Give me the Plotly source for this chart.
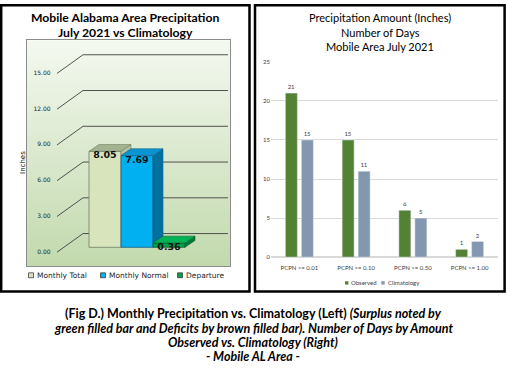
import plotly.graph_objects as go

# ---------------- data ----------------
left_categories = ["Monthly Total", "Monthly Normal", "Departure"]
left_values = [8.05, 7.69, 0.36]
left_value_labels = ["8.05", "7.69", "0.36"]
left_ticks = [0, 3, 6, 9, 12, 15]
left_tick_labels = ["0.00", "3.00", "6.00", "9.00", "12.00", "15.00"]

right_categories = ["PCPN >= 0.01", "PCPN >= 0.10", "PCPN >= 0.50", "PCPN >= 1.00"]
observed_days = [21, 15, 6, 1]
climatology_days = [15, 11, 5, 2]
right_ticks = [0, 5, 10, 15, 20, 25]

# ---------------- styling / geometry ----------------
W, H = 507, 370
def px(x):
    return x / W
def py(y):
    return 1 - y / H

front_colors = ["#d8e4bc", "#00b0f0", "#00a04a"]
top_colors = ["#a3b38f", "#0a94d2", "#00b455"]
side_colors = ["#b3c29f", "#00709f", "#007a38"]
edge_colors = ["#6f7d62", "#1a5f86", "#0c5e2e"]

PX_IN = 12.15          # pixels per inch on the left chart
BAR_PX = 32            # pixels per category on the left chart
X0_PX, Y0_PX = 105, 248
L_AREA = (27, 230, 37, 267)
xr_left = [(L_AREA[0] - X0_PX) / BAR_PX, (L_AREA[1] - X0_PX) / BAR_PX]
yr_left = [(Y0_PX - L_AREA[3]) / PX_IN, (Y0_PX - L_AREA[2]) / PX_IN]
DX, DY = 10 / BAR_PX, 7 / PX_IN
WALL_FX, WALL_FY = (57 - X0_PX) / BAR_PX, -5 / PX_IN
WALL_BX, WALL_BY = (83 - X0_PX) / BAR_PX, 14 / PX_IN
WALL_END = (228 - X0_PX) / BAR_PX

LFONT = "DejaVu Sans"
TFONT = "Lato"

fig = go.Figure()

# background gradient of left plot area
fig.add_trace(go.Scatter(
    x=[xr_left[0], xr_left[1], xr_left[1], xr_left[0], xr_left[0]],
    y=[yr_left[0], yr_left[0], yr_left[1], yr_left[1], yr_left[0]],
    mode="none", fill="toself",
    fillgradient=dict(type="vertical", colorscale=[[0, "#c2d9ad"], [1, "#f4f9f0"]]),
    hoverinfo="skip", xaxis="x", yaxis="y"))

# 3D gridlines (wall)
gx, gy = [], []
for t in left_ticks:
    gx += [WALL_FX, WALL_BX, WALL_END, None]
    gy += [t + WALL_FY, t + WALL_BY, t + WALL_BY, None]
fig.add_trace(go.Scatter(x=gx, y=gy, mode="lines",
                         line=dict(color="#404040", width=0.9),
                         hoverinfo="skip", xaxis="x", yaxis="y"))

# tick labels
fig.add_trace(go.Scatter(
    x=[WALL_FX - 0.2] * len(left_ticks), y=[t + WALL_FY for t in left_ticks],
    mode="text", text=left_tick_labels, textposition="middle left",
    textfont=dict(family=LFONT, size=6, color="#262626"),
    hoverinfo="skip", xaxis="x", yaxis="y", cliponaxis=False))

# bars (front faces) on overlay axes
xs = list(range(len(left_values)))
fig.add_trace(go.Bar(
    x=xs, y=left_values, width=1,
    marker=dict(color=front_colors, line=dict(color=edge_colors, width=0.8)),
    hoverinfo="skip", xaxis="x3", yaxis="y3"))

for i, v in enumerate(left_values):
    lo = min(left_values[i + 1], v) if i + 1 < len(left_values) else 0.0
    fig.add_trace(go.Scatter(
        x=[i + 0.5, i + 0.5, i + 0.5 + DX, i + 0.5 + DX, i + 0.5],
        y=[lo, v, v + DY, lo + DY, lo],
        mode="lines", fill="toself", fillcolor=side_colors[i],
        line=dict(color=edge_colors[i], width=0.6),
        hoverinfo="skip", xaxis="x3", yaxis="y3"))
    fig.add_trace(go.Scatter(
        x=[i - 0.5, i - 0.5 + DX, i + 0.5 + DX, i + 0.5, i - 0.5],
        y=[v, v + DY, v + DY, v, v],
        mode="lines", fill="toself", fillcolor=top_colors[i],
        line=dict(color=edge_colors[i], width=0.6),
        hoverinfo="skip", xaxis="x3", yaxis="y3"))

fig.add_trace(go.Scatter(
    x=xs, y=left_values, mode="text", text=left_value_labels,
    textposition="bottom center",
    textfont=dict(family=LFONT, size=9.5, color="#111111", weight="bold"),
    hoverinfo="skip", xaxis="x3", yaxis="y3", cliponaxis=False))

# right chart
fig.add_trace(go.Bar(
    x=right_categories, y=observed_days, name="Observed",
    marker_color="#548235", text=[str(v) for v in observed_days],
    textposition="outside", cliponaxis=False,
    textfont=dict(family=TFONT, size=6, color="#404040"),
    xaxis="x2", yaxis="y2"))
fig.add_trace(go.Bar(
    x=right_categories, y=climatology_days, name="Climatology",
    marker_color="#8497b0", text=[str(v) for v in climatology_days],
    textposition="outside", cliponaxis=False,
    textfont=dict(family=TFONT, size=6, color="#404040"),
    xaxis="x2", yaxis="y2"))

hidden = dict(showgrid=False, zeroline=False, showticklabels=False, ticks="")
fig.update_layout(
    width=W, height=H, margin=dict(l=0, r=0, t=0, b=0), autosize=False,
    paper_bgcolor="white", plot_bgcolor="rgba(0,0,0,0)",
    showlegend=False, barmode="group", bargap=0.436, bargroupgap=0.25,
    xaxis=dict(domain=[px(L_AREA[0]), px(L_AREA[1])], range=xr_left,
               showline=True, mirror=True, linecolor="#8c8c8c", linewidth=1, **hidden),
    yaxis=dict(domain=[py(L_AREA[3]), py(L_AREA[2])], range=yr_left,
               showline=True, mirror=True, linecolor="#8c8c8c", linewidth=1, **hidden),
    xaxis3=dict(overlaying="x", range=xr_left, visible=False, **hidden),
    yaxis3=dict(overlaying="y", range=yr_left, visible=False, **hidden),
    xaxis2=dict(domain=[px(271), px(498)], anchor="y2", showline=False, ticks="",
                tickfont=dict(family=TFONT, size=6, color="#404040"),
                ticklabelstandoff=6),
    yaxis2=dict(domain=[py(258), py(59)], anchor="x2", range=[0, 25],
                tickvals=right_ticks, gridcolor="#d9d9d9", gridwidth=1,
                zeroline=True, zerolinecolor="#d9d9d9", showline=False, ticks="",
                tickfont=dict(family=TFONT, size=6, color="#404040")),
)

ann = []
def text(x, y, s, size, family=TFONT, color="#000000", **kw):
    ann.append(dict(x=px(x), y=py(y), xref="paper", yref="paper", text=s,
                    showarrow=False, xanchor=kw.pop("xanchor", "center"),
                    yanchor="middle", font=dict(family=family, size=size, color=color), **kw))

text(125, 14, "<b>Mobile Alabama Area Precipitation</b>", 12.2)
text(125, 29, "<b>July 2021 vs Climatology</b>", 12.2)
text(23, 162, "Inches", 7, family=LFONT, textangle=-90)
text(380, 14, "Precipitation Amount (Inches)", 11)
text(380, 29, "Number of Days", 11)
text(380, 43, "Mobile Area July 2021", 11)
text(253, 315, "<b>(Fig D.) Monthly Precipitation vs. Climatology (Left) <i>(Surplus noted by</i></b>", 12.5)
text(253, 330.5, "<b><i>green filled bar and Deficits by brown filled bar). Number of Days by Amount</i></b>", 12.5)
text(253, 345.5, "<b><i>Observed vs. Climatology (Right)</i></b>", 12.5)
text(253, 359.5, "<b><i>- Mobile AL Area -</i></b>", 12.5)

shapes = [
    dict(type="rect", xref="paper", yref="paper", x0=px(1.2), x1=px(249.5),
         y0=py(293), y1=py(1.2), line=dict(color="black", width=2.5)),
    dict(type="rect", xref="paper", yref="paper", x0=px(255), x1=px(504.6),
         y0=py(293), y1=py(1.2), line=dict(color="black", width=2.5)),
]

# left custom legend
left_leg_sq = [31, 103, 180]
for i, name in enumerate(left_categories):
    sx = left_leg_sq[i]
    shapes.append(dict(type="rect", xref="paper", yref="paper",
                       x0=px(sx - 2.5), x1=px(sx + 2.5), y0=py(279), y1=py(274),
                       fillcolor=front_colors[i], line=dict(color="#404040", width=0.8)))
    text(sx + 4, 276.5, name, 7.5, family=LFONT, color="#262626", xanchor="left")

# right custom legend
right_leg = [(346.7, "Observed", "#548235"), (383, "Climatology", "#8497b0")]
for sx, name, col in right_leg:
    shapes.append(dict(type="rect", xref="paper", yref="paper",
                       x0=px(sx - 1.7), x1=px(sx + 1.7), y0=py(286), y1=py(282.6),
                       fillcolor=col, line=dict(width=0)))
    text(sx + 2.5, 284.3, name, 6, color="#404040", xanchor="left")

fig.update_layout(annotations=ann, shapes=shapes)
fig.write_html("out.html", config={"displayModeBar": False},
               post_script="document.body.style.margin='0';document.body.style.padding='0';")
